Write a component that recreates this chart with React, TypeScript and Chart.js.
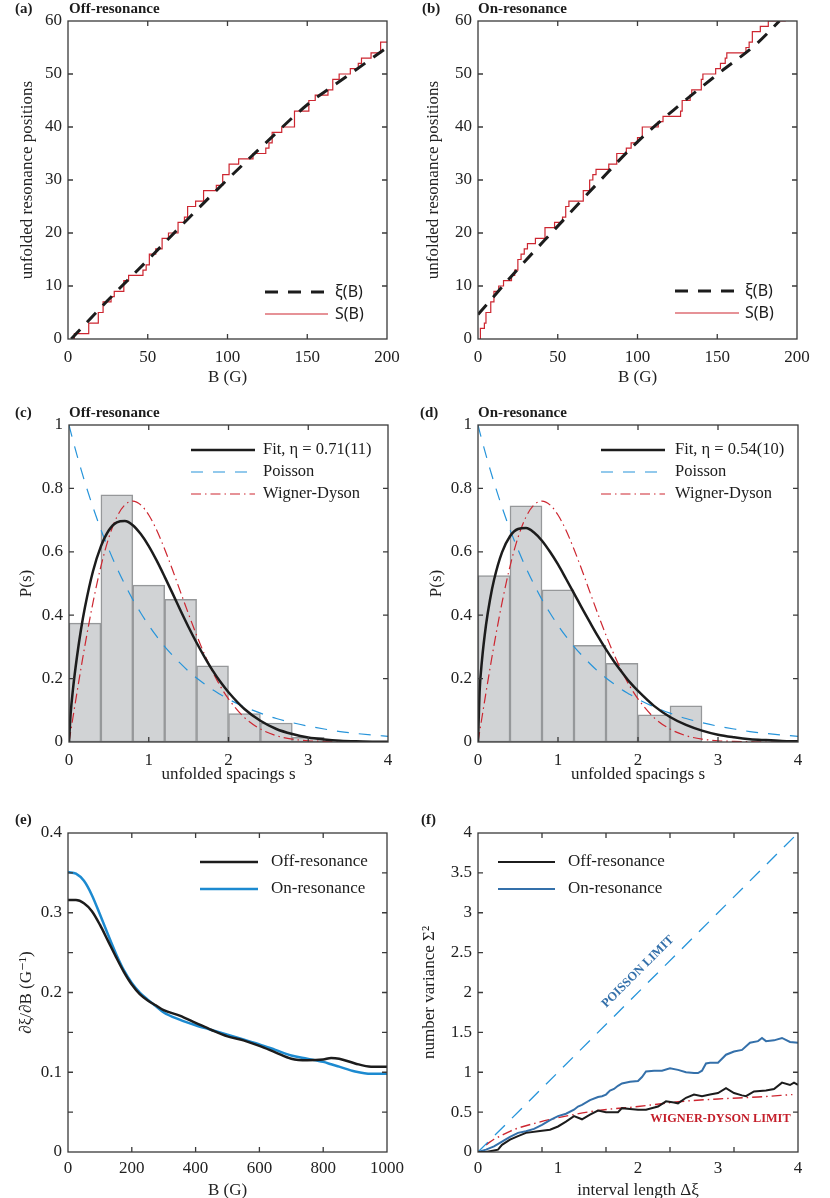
import React, { useEffect, useRef } from "react";
import { Chart, registerables } from "chart.js";

Chart.register(...registerables);

// ---------- (a) / (b) unfolded resonance positions ----------
const offStepB = [2, 4, 13, 19, 22, 27, 29, 35, 38, 47, 49, 51, 55, 59, 63, 69, 73, 75, 80, 85, 93, 97, 101, 107, 116, 124, 126, 128, 134, 142, 151, 155, 163, 166, 170, 177, 182, 184, 190, 196, 200];
const offStepN = [0, 1, 3, 5, 7, 8, 9, 11, 12, 13, 14, 16, 17, 19, 20, 22, 23, 25, 26, 28, 29, 31, 33, 34, 35, 36, 37, 39, 40, 43, 45, 46, 47, 49, 50, 51, 52, 53, 54, 56, 56];
const offXiB = [2, 25, 50, 75, 100, 125, 150, 175, 200];
const offXi = [0, 7.3, 14.9, 22.6, 30.1, 37.3, 44.2, 49.6, 55.0];

const onStepB = [1, 1.5, 4, 5, 8, 10, 13, 16, 21, 23, 25, 27, 29, 31, 36, 42, 48, 53, 55, 57, 66, 70, 72, 74, 82, 87, 93, 96, 100, 103, 113, 116, 127, 128, 133, 134, 140, 141, 149, 152, 155, 156, 168, 170, 172, 177, 182, 193];
const onStepN = [0, 2, 3, 5, 7, 9, 10, 11, 12, 13, 15, 16, 17, 18, 19, 21, 22, 23, 25, 26, 28, 30, 31, 32, 33, 35, 36, 37, 38, 40, 41, 42, 43, 45, 46, 47, 49, 50, 51, 52, 53, 54, 55, 56, 58, 59, 60, 60];
const onXiB = [0, 25, 50, 75, 100, 125, 150, 175, 189];
const onXi = [4.6, 13.2, 21.3, 29.4, 37.2, 43.8, 49.9, 55.8, 60];

// ---------- (c) / (d) spacing distributions ----------
const binMid = [0.2, 0.6, 1.0, 1.4, 1.8, 2.2, 2.6, 3.0];
const offHist = [0.375, 0.78, 0.495, 0.45, 0.24, 0.09, 0.06, 0.015];
const onHist = [0.525, 0.745, 0.48, 0.305, 0.248, 0.086, 0.114];

const sGrid = [0, 0.02, 0.05, 0.1, 0.15, 0.2, 0.3, 0.4, 0.5, 0.6, 0.7, 0.8, 0.9, 1.0, 1.1, 1.2, 1.3, 1.4, 1.5, 1.6, 1.7, 1.8, 1.9, 2.0, 2.2, 2.4, 2.6, 2.8, 3.0, 3.2, 3.4, 3.6, 3.8, 4.0];
const poissonP = [1, 0.98, 0.951, 0.905, 0.861, 0.819, 0.741, 0.67, 0.607, 0.549, 0.497, 0.449, 0.407, 0.368, 0.333, 0.301, 0.273, 0.247, 0.223, 0.202, 0.183, 0.165, 0.15, 0.135, 0.111, 0.091, 0.074, 0.061, 0.05, 0.041, 0.033, 0.027, 0.022, 0.018];
const wignerP = [0, 0.031, 0.078, 0.156, 0.232, 0.305, 0.439, 0.554, 0.645, 0.71, 0.748, 0.76, 0.748, 0.716, 0.668, 0.608, 0.542, 0.472, 0.403, 0.337, 0.276, 0.222, 0.175, 0.136, 0.077, 0.041, 0.02, 0.009, 0.004, 0.002, 0.001, 0, 0, 0];
const offFitP = [0, 0.087, 0.167, 0.269, 0.354, 0.425, 0.538, 0.617, 0.668, 0.693, 0.697, 0.684, 0.656, 0.618, 0.572, 0.521, 0.468, 0.414, 0.362, 0.313, 0.268, 0.226, 0.189, 0.157, 0.104, 0.067, 0.041, 0.025, 0.014, 0.008, 0.004, 0.002, 0.001, 0.0005];
const onFitP = [0, 0.158, 0.258, 0.369, 0.449, 0.511, 0.598, 0.649, 0.672, 0.675, 0.661, 0.635, 0.6, 0.56, 0.515, 0.469, 0.422, 0.377, 0.333, 0.292, 0.254, 0.22, 0.188, 0.161, 0.114, 0.079, 0.054, 0.036, 0.023, 0.015, 0.009, 0.006, 0.0035, 0.002];

// ---------- (e) level density ----------
const eB = [0, 25, 50, 75, 100, 125, 150, 175, 200, 225, 250, 275, 300, 350, 400, 450, 500, 550, 600, 650, 700, 750, 800, 825, 850, 900, 950, 1000];
const eOff = [0.316, 0.316, 0.312, 0.302, 0.285, 0.265, 0.245, 0.226, 0.21, 0.198, 0.19, 0.184, 0.178, 0.171, 0.162, 0.153, 0.145, 0.14, 0.133, 0.125, 0.117, 0.115, 0.116, 0.118, 0.117, 0.111, 0.107, 0.107];
const eOn = [0.351, 0.349, 0.34, 0.322, 0.298, 0.273, 0.249, 0.228, 0.212, 0.2, 0.191, 0.183, 0.175, 0.166, 0.159, 0.153, 0.147, 0.141, 0.135, 0.128, 0.121, 0.117, 0.113, 0.11, 0.107, 0.101, 0.098, 0.098];

// ---------- (f) number variance ----------
const fOffL = [0, 0.1, 0.2, 0.25, 0.3, 0.4, 0.5, 0.6, 0.75, 0.9, 1.0, 1.1, 1.2, 1.3, 1.4, 1.5, 1.6, 1.75, 1.8, 1.9, 2.0, 2.1, 2.25, 2.35, 2.45, 2.5, 2.6, 2.7, 2.8, 2.9, 3.0, 3.1, 3.2, 3.3, 3.35, 3.45, 3.6, 3.7, 3.8, 3.9, 3.95, 4.0];
const fOff = [0, 0, 0.02, 0.03, 0.09, 0.155, 0.2, 0.24, 0.26, 0.28, 0.32, 0.38, 0.45, 0.41, 0.47, 0.52, 0.5, 0.5, 0.55, 0.54, 0.53, 0.53, 0.57, 0.635, 0.62, 0.61, 0.68, 0.72, 0.7, 0.72, 0.74, 0.8, 0.74, 0.71, 0.7, 0.76, 0.77, 0.79, 0.87, 0.84, 0.87, 0.84];
const fOnL = [0, 0.1, 0.2, 0.3, 0.4, 0.5, 0.6, 0.7, 0.8, 0.9, 1.0, 1.1, 1.2, 1.25, 1.3, 1.4, 1.5, 1.55, 1.6, 1.65, 1.7, 1.75, 1.8, 1.9, 2.0, 2.05, 2.1, 2.2, 2.3, 2.4, 2.5, 2.6, 2.7, 2.75, 2.8, 2.85, 2.9, 3.0, 3.05, 3.1, 3.2, 3.3, 3.4, 3.5, 3.55, 3.6, 3.7, 3.8, 3.9, 4.0];
const fOn = [0, 0.03, 0.07, 0.13, 0.19, 0.24, 0.26, 0.29, 0.34, 0.4, 0.45, 0.48, 0.53, 0.57, 0.59, 0.65, 0.69, 0.7, 0.72, 0.77, 0.79, 0.83, 0.86, 0.88, 0.89, 0.94, 1.01, 1.02, 1.02, 1.05, 1.03, 1.0, 0.99, 0.99, 1.02, 1.11, 1.12, 1.12, 1.17, 1.22, 1.26, 1.28, 1.37, 1.39, 1.43, 1.39, 1.4, 1.43, 1.38, 1.37];
const fPoisL = [0, 4];
const fPois = [0, 4];
const fWdL = [0.1, 0.2, 0.3, 0.4, 0.5, 0.75, 1.0, 1.5, 2.0, 2.5, 3.0, 3.5, 3.93];
const fWd = [0.09, 0.16, 0.21, 0.26, 0.3, 0.37, 0.43, 0.52, 0.57, 0.63, 0.665, 0.69, 0.72];
const fTickMarks = [0.8, 1.6, 2.4, 3.2];

const SERIF = "'Liberation Serif', 'DejaVu Serif', serif";
const SANS = "'Noto Sans', 'Open Sans', sans-serif";
const RED = "rgb(205, 38, 48)";
const LBLUE = "rgb(38, 148, 218)";
const EBLUE = "rgb(28, 138, 208)";
const FBLUE = "rgb(52, 112, 170)";
const INK = "#1c1c1c";
const WD_DASH = [10, 4, 1.5, 4];

const pts = (xs: number[], ys: number[]) => ys.map((y, i) => ({ x: xs[i], y }));
const plain = (v: number) => String(Math.round(v * 1000) / 1000);

// box round the plot, ticks pointing inwards on all four sides
const framePlugin = {
  id: "frame",
  afterDatasetsDraw(chart: any, _args: any, opts: any) {
    const { ctx, chartArea: a, scales } = chart;
    const xs = scales.x;
    const ys = scales.y;
    const tl = 5;
    ctx.save();
    ctx.strokeStyle = "#3a3a3a";
    ctx.lineWidth = 1.3;
    ctx.strokeRect(a.left, a.top, a.right - a.left, a.bottom - a.top);
    ctx.beginPath();
    const xm: number[] = opts && opts.xMarks ? opts.xMarks : xs.ticks.map((t: any) => t.value);
    xm.forEach((v) => {
      if (v <= xs.min || v >= xs.max) return;
      const p = xs.getPixelForValue(v);
      ctx.moveTo(p, a.bottom);
      ctx.lineTo(p, a.bottom - tl);
      ctx.moveTo(p, a.top);
      ctx.lineTo(p, a.top + tl);
    });
    ys.ticks.forEach((t: any) => {
      if (t.value <= ys.min || t.value >= ys.max) return;
      const p = ys.getPixelForValue(t.value);
      ctx.moveTo(a.left, p);
      ctx.lineTo(a.left + tl, p);
      ctx.moveTo(a.right, p);
      ctx.lineTo(a.right - tl, p);
    });
    ctx.stroke();
    ctx.restore();
  },
};

// legend drawn from the datasets that carry a label
const keyPlugin = {
  id: "key",
  afterDraw(chart: any, _args: any, opts: any) {
    if (!opts || opts.x0 === undefined) return;
    const { ctx } = chart;
    const sets = chart.data.datasets.filter((d: any) => d.label);
    sets.forEach((d: any, i: number) => {
      const y = opts.y0 + i * opts.dy;
      ctx.save();
      ctx.strokeStyle = d.borderColor;
      ctx.lineWidth = d.borderWidth;
      ctx.setLineDash(d.borderDash || []);
      ctx.beginPath();
      ctx.moveTo(opts.x0, y);
      ctx.lineTo(opts.x1, y);
      ctx.stroke();
      ctx.setLineDash([]);
      ctx.font = opts.font;
      ctx.fillStyle = INK;
      ctx.textAlign = "left";
      ctx.textBaseline = "middle";
      ctx.fillText(d.label, opts.tx, y);
      ctx.restore();
    });
  },
};

// panel letters, titles and the labels in (f)
const notesPlugin = {
  id: "notes",
  afterDraw(chart: any, _args: any, opts: any) {
    const items = (opts && opts.items) || [];
    const { ctx } = chart;
    items.forEach((it: any) => {
      let x = it.x;
      let y = it.y;
      if (it.data) {
        x = chart.scales.x.getPixelForValue(it.x);
        y = chart.scales.y.getPixelForValue(it.y);
      }
      ctx.save();
      ctx.translate(x, y);
      if (it.rotate) ctx.rotate(it.rotate);
      ctx.font = it.font;
      ctx.fillStyle = it.color || INK;
      ctx.textAlign = it.align || "left";
      ctx.textBaseline = "middle";
      ctx.fillText(it.text, 0, 0);
      ctx.restore();
    });
  },
};

const tickFont = { family: SERIF, size: 17 };
const titleFont = { family: SERIF, size: 17 };
const headFont = `bold 15px ${SERIF}`;

function xAxis(min: number, max: number, step: number, h: number, pad: number, title: string, titlePad: number) {
  return {
    type: "linear",
    min,
    max,
    offset: false,
    grid: { display: false, drawTicks: false },
    border: { display: false },
    ticks: { stepSize: step, padding: pad, font: tickFont, color: "#222", autoSkip: false, maxRotation: 0, callback: plain },
    title: { display: true, text: title, font: titleFont, color: "#222", padding: { top: 0, bottom: titlePad } },
    afterFit: (s: any) => {
      s.height = h;
    },
  };
}

function yAxis(min: number, max: number, step: number, w: number, title: string, titlePad: number, cb: (v: number) => string = plain) {
  return {
    type: "linear",
    min,
    max,
    grid: { display: false, drawTicks: false },
    border: { display: false },
    ticks: { stepSize: step, padding: 6, font: tickFont, color: "#222", autoSkip: false, callback: cb },
    title: { display: true, text: title, font: titleFont, color: "#222", padding: { top: titlePad, bottom: 0 } },
    afterFit: (s: any) => {
      s.width = w;
    },
  };
}

const line = (label: string, data: any[], color: string, width: number, extra: any = {}) => ({
  type: "line",
  label,
  data,
  borderColor: color,
  borderWidth: width,
  pointRadius: 0,
  fill: false,
  ...extra,
});

const hist = (data: any[]) => ({
  type: "bar",
  label: "",
  data,
  backgroundColor: "rgb(209, 211, 213)",
  borderColor: "rgb(150, 152, 154)",
  borderWidth: 1.5,
  borderSkipped: false,
  barPercentage: 1,
  categoryPercentage: 1,
  order: 10,
});

interface PanelSpec {
  left: number;
  top: number;
  h: number;
  padTop: number;
  padRight: number;
  datasets: any[];
  x: any;
  y: any;
  key: any;
  notes: any[];
  frame?: any;
}

const panels: PanelSpec[] = [
  {
    left: 0, top: 0, h: 392, padTop: 21, padRight: 28,
    datasets: [
      line("ξ(B)", pts(offXiB, offXi), INK, 3, { borderDash: [13, 10], cubicInterpolationMode: "monotone" }),
      line("S(B)", pts(offStepB, offStepN), RED, 1.2, { stepped: "before" }),
    ],
    x: xAxis(0, 200, 50, 53, 8, "B (G)", 4),
    y: yAxis(0, 60, 10, 68, "unfolded resonance positions", 17),
    key: { x0: 265, x1: 328, tx: 335, y0: 292, dy: 22, font: `16px ${SANS}` },
    notes: [
      { text: "(a)", x: 15, y: 9, font: headFont },
      { text: "Off-resonance", x: 69, y: 9, font: headFont },
    ],
  },
  {
    left: 415, top: 0, h: 392, padTop: 21, padRight: 33,
    datasets: [
      line("ξ(B)", pts(onXiB, onXi), INK, 3, { borderDash: [13, 10], cubicInterpolationMode: "monotone" }),
      line("S(B)", pts(onStepB, onStepN), RED, 1.2, { stepped: "before" }),
    ],
    x: xAxis(0, 200, 50, 53, 8, "B (G)", 4),
    y: yAxis(0, 60, 10, 63, "unfolded resonance positions", 8),
    key: { x0: 260, x1: 324, tx: 330, y0: 291, dy: 22, font: `16px ${SANS}` },
    notes: [
      { text: "(b)", x: 7, y: 9, font: headFont },
      { text: "On-resonance", x: 63, y: 9, font: headFont },
    ],
  },
  {
    left: 0, top: 392, h: 393, padTop: 33, padRight: 27,
    datasets: [
      line("Fit, η = 0.71(11)", pts(sGrid, offFitP), INK, 2.5, { cubicInterpolationMode: "monotone", order: 1 }),
      line("Poisson", pts(sGrid, poissonP), LBLUE, 1.2, { borderDash: [12, 10], cubicInterpolationMode: "monotone", order: 2 }),
      line("Wigner-Dyson", pts(sGrid, wignerP), RED, 1.2, { borderDash: WD_DASH, cubicInterpolationMode: "monotone", order: 3 }),
      hist(pts(binMid, offHist)),
    ],
    x: xAxis(0, 4, 1, 43, 8, "unfolded spacings s", 0),
    y: yAxis(0, 1, 0.2, 69, "P(s)", 16),
    key: { x0: 191, x1: 255, tx: 263, y0: 58, dy: 22, font: `16.5px ${SERIF}` },
    notes: [
      { text: "(c)", x: 15, y: 21, font: headFont },
      { text: "Off-resonance", x: 69, y: 21, font: headFont },
    ],
  },
  {
    left: 415, top: 392, h: 393, padTop: 33, padRight: 32,
    datasets: [
      line("Fit, η = 0.54(10)", pts(sGrid, onFitP), INK, 2.5, { cubicInterpolationMode: "monotone", order: 1 }),
      line("Poisson", pts(sGrid, poissonP), LBLUE, 1.2, { borderDash: [12, 10], cubicInterpolationMode: "monotone", order: 2 }),
      line("Wigner-Dyson", pts(sGrid, wignerP), RED, 1.2, { borderDash: WD_DASH, cubicInterpolationMode: "monotone", order: 3 }),
      hist(pts(binMid, onHist)),
    ],
    x: xAxis(0, 4, 1, 43, 8, "unfolded spacings s", 0),
    y: yAxis(0, 1, 0.2, 63, "P(s)", 11),
    key: { x0: 186, x1: 250, tx: 260, y0: 58, dy: 22, font: `16.5px ${SERIF}` },
    notes: [
      { text: "(d)", x: 5, y: 21, font: headFont },
      { text: "On-resonance", x: 63, y: 21, font: headFont },
    ],
  },
  {
    left: 0, top: 785, h: 413, padTop: 48, padRight: 28,
    datasets: [
      line("Off-resonance", pts(eB, eOff), INK, 2.5, { cubicInterpolationMode: "monotone" }),
      line("On-resonance", pts(eB, eOn), EBLUE, 2.5, { cubicInterpolationMode: "monotone" }),
    ],
    x: xAxis(0, 1000, 200, 46, 6, "B (G)", -3),
    y: yAxis(0, 0.4, 0.05, 68, "∂ξ/∂B (G⁻¹)", 16, (v: number) =>
      Math.round(v * 20) % 2 === 0 ? String(Math.round(v * 10) / 10) : ""
    ),
    key: { x0: 200, x1: 258, tx: 271, y0: 77, dy: 27, font: `17px ${SERIF}` },
    notes: [{ text: "(e)", x: 15, y: 35, font: headFont }],
  },
  {
    left: 415, top: 785, h: 413, padTop: 48, padRight: 32,
    datasets: [
      line("Off-resonance", pts(fOffL, fOff), INK, 2, { order: 1 }),
      line("On-resonance", pts(fOnL, fOn), FBLUE, 2, { order: 2 }),
      line("", pts(fPoisL, fPois), LBLUE, 1.3, { borderDash: [14, 10], order: 3 }),
      line("", pts(fWdL, fWd), RED, 1.4, { borderDash: WD_DASH, cubicInterpolationMode: "monotone", order: 3 }),
    ],
    x: xAxis(0, 4, 1, 46, 6, "interval length Δξ", -3),
    y: yAxis(0, 4, 0.5, 63, "number variance Σ²", 4),
    key: { x0: 83, x1: 140, tx: 153, y0: 77, dy: 27, font: `17px ${SERIF}` },
    frame: { xMarks: fTickMarks },
    notes: [
      { text: "(f)", x: 6, y: 35, font: headFont },
      { text: "POISSON LIMIT", x: 2.0, y: 2.26, data: true, rotate: -Math.PI / 4, align: "center", font: `bold 12.5px ${SERIF}`, color: "rgb(52, 112, 170)" },
      { text: "WIGNER-DYSON LIMIT", x: 3.03, y: 0.41, data: true, align: "center", font: `bold 12.3px ${SERIF}`, color: "rgb(196, 30, 42)" },
    ],
  },
];

function Panel({ p }: { p: PanelSpec }) {
  const canvasRef = useRef<HTMLCanvasElement>(null);

  useEffect(() => {
    const chart = new Chart(canvasRef.current as HTMLCanvasElement, {
      type: "line",
      data: { datasets: p.datasets },
      options: {
        responsive: false,
        animation: false,
        layout: { padding: { top: p.padTop, right: p.padRight, left: 0, bottom: 0 } },
        scales: { x: p.x, y: p.y },
        plugins: {
          legend: { display: false },
          tooltip: { enabled: false },
          key: p.key,
          notes: { items: p.notes },
          frame: p.frame || {},
        },
      } as any,
      plugins: [framePlugin, keyPlugin, notesPlugin],
    } as any);

    return () => {
      chart.destroy();
    };
  }, [p]);

  return (
    <canvas
      ref={canvasRef}
      width={415}
      height={p.h}
      style={{ position: "absolute", left: p.left, top: p.top, width: 415, height: p.h }}
    />
  );
}

export default function App() {
  return (
    <div
      style={{
        position: "absolute",
        left: 0,
        top: 0,
        width: 830,
        height: 1198,
        overflow: "hidden",
        background: "#fff",
      }}
    >
      {panels.map((p, i) => (
        <Panel key={i} p={p} />
      ))}
    </div>
  );
}
